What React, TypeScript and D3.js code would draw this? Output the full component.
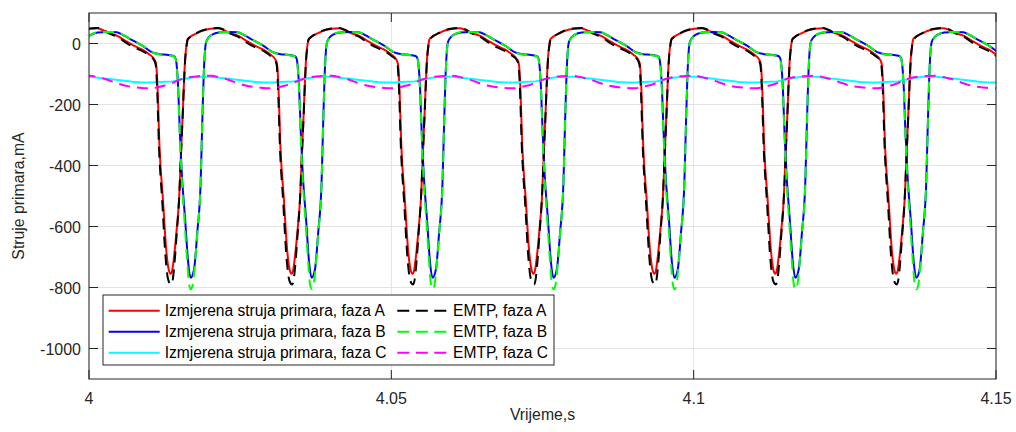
import React from "react";
import * as d3 from "d3";

// ---- data ----
// times (s) of the phase-A current minima, one per 50 Hz period
const troughsA = [3.9935, 4.0135, 4.0335, 4.0535, 4.0735, 4.0935, 4.1135, 4.1335, 4.1535];
// phase B minimum lags phase A minimum by (ms)
const lagB_ms = 3.31;

// one period of each waveform: [offset from its trough in ms, current in mA]
const measA: [number, number][] = [
  [0, -755], [0.25, -745], [0.5, -710], [1.0, -610], [1.4, -510], [1.72, -360], [2.0, -230],
  [2.2, -130], [2.4, -50], [2.65, -2], [2.81, 14], [3.1, 20], [3.47, 25], [4.3, 33], [5.13, 41],
  [6.6, 48], [7.9, 50], [9.05, 41], [9.9, 33], [11.2, 25], [12.6, 8], [14.0, -8], [15.66, -24],
  [16.5, -36], [17.3, -52], [17.6, -68], [17.78, -118], [18.18, -348], [18.73, -512],
  [19.27, -677], [19.67, -740],
];
const emtpA: [number, number][] = [
  [0.1, -790], [0.35, -775], [0.6, -730], [1.0, -625], [1.4, -510], [1.72, -360], [2.0, -235],
  [2.2, -135], [2.4, -55], [2.65, -5], [2.81, 12], [3.1, 19], [3.47, 25], [4.3, 34], [5.13, 42],
  [6.6, 49], [7.9, 51], [9.05, 43], [9.9, 32], [11.2, 22], [12.6, 3], [14.0, -13], [15.66, -28],
  [16.5, -40], [17.3, -56], [17.55, -72], [17.72, -125], [18.1, -350], [18.62, -520],
  [19.12, -690], [19.5, -765], [19.8, -785],
];
const measB: [number, number][] = [
  [0, -768], [0.55, -742], [1.09, -621], [1.65, -457], [1.92, -260], [2.15, -110], [2.35, -30],
  [2.56, 5], [3.0, 20], [3.64, 30], [4.63, 36], [6.29, 38], [7.77, 37], [8.77, 28], [10.25, 12],
  [12.07, -8], [13.56, -28], [14.89, -35], [16.04, -37], [17.2, -41], [17.53, -50], [17.73, -80],
  [17.95, -150], [18.19, -280], [18.52, -420], [19.1, -580], [19.6, -720],
];
const emtpB: [number, number][] = [
  [0.05, -806], [0.35, -790], [0.65, -735], [1.09, -625], [1.65, -460], [1.92, -262],
  [2.15, -112], [2.35, -32], [2.56, 3], [3.0, 19], [3.64, 30], [4.63, 37], [6.29, 38],
  [7.77, 37], [8.77, 29], [10.25, 12], [12.07, -8], [13.56, -28], [14.89, -36], [16.04, -38],
  [17.2, -42], [17.53, -52], [17.73, -85], [17.95, -160], [18.19, -290], [18.52, -440],
  [19.05, -600], [19.45, -720], [19.75, -790],
];
// phase C, relative to phase-A minimum
const measC: [number, number][] = [
  [0, -125], [1.32, -120], [2.98, -113], [4.96, -109], [6.62, -109], [8.27, -113],
  [10.25, -117], [12.4, -122], [14.56, -127], [16.54, -128], [18.19, -126],
];
const emtpC: [number, number][] = [
  [0, -132], [1.32, -120], [2.98, -111], [4.63, -107], [6.62, -106], [8.27, -112], [9.43, -118],
  [10.75, -128], [12.4, -138], [14.89, -145], [16.54, -147], [17.53, -145], [18.52, -140],
  [19.52, -135],
];

const xTicks = [4, 4.05, 4.1, 4.15];
const xTickLabels = ["4", "4.05", "4.1", "4.15"];
const yTicks = [0, -200, -400, -600, -800, -1000];
const yTickLabels = ["0", "-200", "-400", "-600", "-800", "-1000"];
const xDomain: [number, number] = [4, 4.15];
const yDomain: [number, number] = [-1100, 100];

const legendLabels = [
  "Izmjerena struja primara, faza A",
  "Izmjerena struja primara, faza B",
  "Izmjerena struja primara, faza C",
  "EMTP, faza A",
  "EMTP, faza B",
  "EMTP, faza C",
];

// ---- layout ----
const W = 1016, H = 432;
const L = 89, R = 996, T = 13, B = 379;
const FONT = "'Liberation Sans', Arial, Helvetica, sans-serif";

function build(shape: [number, number][], shiftMs: number) {
  const pts: [number, number][] = [];
  troughsA.forEach((t0) => {
    shape.forEach(([ms, v]) => pts.push([t0 + (shiftMs + ms) / 1000, v]));
  });
  pts.sort((a, b) => a[0] - b[0]);
  return pts;
}

export default function App() {
  const x = d3.scaleLinear().domain(xDomain).range([L, R]);
  const y = d3.scaleLinear().domain(yDomain).range([B, T]);
  const line = d3
    .line<[number, number]>()
    .x((d) => x(d[0]))
    .y((d) => y(d[1]))
    .curve(d3.curveMonotoneX);

  const series = [
    { data: build(measA, 0), color: "#ff0000", dash: null },
    { data: build(measB, lagB_ms), color: "#0000ff", dash: null },
    { data: build(measC, 0), color: "#00ffff", dash: null },
    { data: build(emtpA, 0), color: "#000000", dash: "11 7" },
    { data: build(emtpB, lagB_ms), color: "#00ff00", dash: "11 7" },
    { data: build(emtpC, 0), color: "#ff00ff", dash: "11 7" },
  ];

  const axisColor = "#262626";
  const gridColor = "#e3e3e3";
  const tickLen = 9;

  // legend geometry
  const lgX0 = 103, lgX1 = 554, lgY0 = 295, lgY1 = 365;
  const rowY = [310.7, 331.7, 352.7];
  const col = [
    { l0: 108.7, l1: 159.7, tx: 164.7 },
    { l0: 397.3, l1: 448, tx: 453 },
  ];

  return (
    <svg
      width={W}
      height={H}
      style={{ position: "absolute", left: 0, top: 0, background: "#fff" }}
      fontFamily={FONT}
    >
      <defs>
        <clipPath id="plotclip">
          <rect x={L} y={T} width={R - L} height={B - T} />
        </clipPath>
      </defs>
      <rect x={0} y={0} width={W} height={H} fill="#fff" />
      {/* grid */}
      {xTicks.map((t) => (
        <line key={"gx" + t} x1={x(t)} x2={x(t)} y1={T} y2={B} stroke={gridColor} strokeWidth={1} />
      ))}
      {yTicks.map((t) => (
        <line key={"gy" + t} x1={L} x2={R} y1={y(t)} y2={y(t)} stroke={gridColor} strokeWidth={1} />
      ))}
      {/* data */}
      <g clipPath="url(#plotclip)">
        {series.map((s, i) => (
          <path
            key={i}
            d={line(s.data) || ""}
            fill="none"
            stroke={s.color}
            strokeWidth={2}
            strokeDasharray={s.dash || undefined}
            strokeLinejoin="round"
          />
        ))}
      </g>
      {/* box */}
      <rect x={L} y={T} width={R - L} height={B - T} fill="none" stroke={axisColor} strokeWidth={1} />
      {/* ticks */}
      {xTicks.map((t) => (
        <g key={"tx" + t}>
          <line x1={x(t)} x2={x(t)} y1={B} y2={B - tickLen} stroke={axisColor} />
          <line x1={x(t)} x2={x(t)} y1={T} y2={T + tickLen} stroke={axisColor} />
        </g>
      ))}
      {yTicks.map((t) => (
        <g key={"ty" + t}>
          <line x1={L} x2={L + tickLen} y1={y(t)} y2={y(t)} stroke={axisColor} />
          <line x1={R} x2={R - tickLen} y1={y(t)} y2={y(t)} stroke={axisColor} />
        </g>
      ))}
      {/* tick labels */}
      {xTicks.map((t, i) => (
        <text key={"lx" + t} x={x(t)} y={403.5} textAnchor="middle" fontSize={16} fill={axisColor}>
          {xTickLabels[i]}
        </text>
      ))}
      {yTicks.map((t, i) => (
        <text key={"ly" + t} x={81} y={y(t) + 6.8} textAnchor="end" fontSize={16} fill={axisColor}>
          {yTickLabels[i]}
        </text>
      ))}
      {/* axis labels */}
      <text x={(L + R) / 2} y={419.5} textAnchor="middle" fontSize={15.8} fill={axisColor}>
        Vrijeme,s
      </text>
      <text
        transform={`translate(23.5,${(T + B) / 2}) rotate(-90)`}
        textAnchor="middle"
        fontSize={15.8}
        fill={axisColor}
      >
        Struje primara,mA
      </text>
      {/* legend */}
      <rect x={lgX0} y={lgY0} width={lgX1 - lgX0} height={lgY1 - lgY0} fill="#fff" stroke={axisColor} strokeWidth={1} />
      {series.map((s, i) => {
        const c = col[Math.floor(i / 3)];
        const ry = rowY[i % 3];
        return (
          <g key={"lg" + i}>
            <line
              x1={c.l0}
              x2={c.l1}
              y1={ry}
              y2={ry}
              stroke={s.color}
              strokeWidth={2}
              strokeDasharray={s.dash ? "12 6.5" : undefined}
            />
            <text x={c.tx} y={ry + 5.6} fontSize={15.6} fill="#000">
              {legendLabels[i]}
            </text>
          </g>
        );
      })}
    </svg>
  );
}
